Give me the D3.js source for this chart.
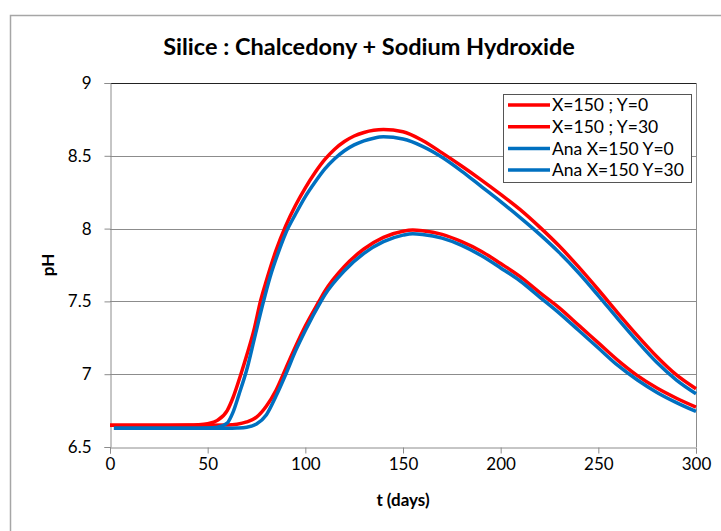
<!DOCTYPE html>
<html>
<head>
<meta charset="utf-8">
<script src="https://cdn.jsdelivr.net/npm/d3@7"></script>
<style>
  body { margin: 0; background: #fff; }
  svg { display: block; font-family: Lato, "Liberation Sans", sans-serif; }
</style>
</head>
<body>
<svg id="chart" width="721" height="531"></svg>
<script>
// values
const tRedY0  = [0, 10, 20, 30, 40, 45, 50, 55, 60, 63, 67, 70, 74, 77, 80, 85, 90, 95, 100, 105, 110, 115, 120, 125, 130, 135, 140, 150, 160, 170, 180, 190, 200, 210, 220, 230, 240, 250, 260, 270, 280, 290, 300];
const pHRedY0 = [6.65, 6.65, 6.65, 6.65, 6.651, 6.653, 6.66, 6.683, 6.75, 6.84, 7.0, 7.13, 7.32, 7.5, 7.64, 7.85, 8.02, 8.16, 8.28, 8.385, 8.475, 8.545, 8.598, 8.636, 8.66, 8.675, 8.68, 8.665, 8.605, 8.52, 8.43, 8.335, 8.235, 8.13, 8.01, 7.88, 7.735, 7.58, 7.42, 7.265, 7.12, 6.995, 6.9];

const tRedY30  = [0, 10, 20, 30, 40, 50, 60, 65, 70, 75, 80, 85, 90, 95, 100, 107, 110, 120, 130, 140, 150, 155, 160, 170, 180, 190, 200, 210, 220, 230, 240, 250, 260, 270, 280, 290, 300];
const pHRedY30 = [6.65, 6.65, 6.65, 6.65, 6.65, 6.65, 6.651, 6.656, 6.672, 6.705, 6.78, 6.89, 7.04, 7.19, 7.33, 7.5, 7.57, 7.74, 7.86, 7.94, 7.982, 7.99, 7.985, 7.96, 7.91, 7.845, 7.76, 7.67, 7.56, 7.455, 7.335, 7.215, 7.095, 6.99, 6.905, 6.835, 6.774];

const tAnaY0  = [2, 10, 20, 30, 40, 50, 55, 60, 63, 66, 70, 74, 78, 82, 86, 90, 95, 100, 105, 110, 115, 120, 125, 130, 135, 140, 150, 160, 170, 180, 190, 200, 210, 220, 230, 240, 250, 260, 270, 280, 290, 300];
const pHAnaY0 = [6.628, 6.628, 6.628, 6.628, 6.628, 6.63, 6.636, 6.665, 6.74, 6.86, 7.03, 7.25, 7.47, 7.67, 7.83, 7.97, 8.1, 8.22, 8.32, 8.41, 8.48, 8.535, 8.575, 8.603, 8.621, 8.63, 8.615, 8.565, 8.49, 8.395, 8.29, 8.185, 8.075, 7.96, 7.835, 7.695, 7.54, 7.38, 7.225, 7.08, 6.96, 6.866];

const tAnaY30  = [2, 10, 20, 30, 40, 50, 60, 65, 70, 75, 80, 85, 90, 95, 100, 108, 110, 120, 130, 140, 150, 155, 160, 170, 180, 190, 200, 210, 220, 230, 240, 250, 260, 270, 280, 290, 300];
const pHAnaY30 = [6.628, 6.628, 6.628, 6.628, 6.628, 6.628, 6.628, 6.63, 6.636, 6.658, 6.72, 6.85, 7.0, 7.16, 7.3, 7.5, 7.545, 7.71, 7.83, 7.91, 7.955, 7.965, 7.96, 7.935, 7.885, 7.815, 7.73, 7.64, 7.53, 7.42, 7.3, 7.18, 7.06, 6.96, 6.875, 6.805, 6.744];

const seriesNames  = ["X=150 ; Y=0", "X=150 ; Y=30", "Ana X=150 Y=0", "Ana X=150 Y=30"];
const seriesColors = ["#ff0000", "#ff0000", "#0070c0", "#0070c0"];
const xTicks = [0, 50, 100, 150, 200, 250, 300];
const yTicks = [6.5, 7, 7.5, 8, 8.5, 9];

const series = [
    { name: seriesNames[0], color: seriesColors[0], values: tRedY0.map((t, i) => ({ t: t, ph: pHRedY0[i] })) },
    { name: seriesNames[1], color: seriesColors[1], values: tRedY30.map((t, i) => ({ t: t, ph: pHRedY30[i] })) },
    { name: seriesNames[2], color: seriesColors[2], values: tAnaY0.map((t, i) => ({ t: t, ph: pHAnaY0[i] })) },
    { name: seriesNames[3], color: seriesColors[3], values: tAnaY30.map((t, i) => ({ t: t, ph: pHAnaY30[i] })) }
];

const plotLeft = 110, plotRight = 696, plotTop = 83, plotBottom = 447;

var svg = d3.select("#chart");

// outer chart frame (runs off the picture on the right and bottom)
svg.append("rect")
    .attr("x", 10.5).attr("y", 15.5)
    .attr("width", 800).attr("height", 600)
    .attr("fill", "none")
    .attr("stroke", "#a6a6a6")
    .attr("stroke-width", 1.5);

var x = d3.scaleLinear().domain([0, 300]).range([plotLeft, plotRight]);
var y = d3.scaleLinear().domain([6.5, 9]).range([plotBottom, plotTop]);

// gridlines
svg.append("g")
    .selectAll("line")
    .data(yTicks.slice(1))
    .enter()
    .append("line")
    .attr("x1", plotLeft).attr("x2", plotRight)
    .attr("y1", d => Math.round(y(d)) + 0.5)
    .attr("y2", d => Math.round(y(d)) + 0.5)
    .attr("stroke", d => d === 9 ? "#222" : "#8c8c8c")
    .attr("stroke-width", 1);

// right edge of plot area
svg.append("line")
    .attr("x1", Math.round(plotRight) + 0.5).attr("x2", Math.round(plotRight) + 0.5)
    .attr("y1", plotTop).attr("y2", plotBottom)
    .attr("stroke", "#8c8c8c");

var xAxis = d3.axisBottom(x).tickValues(xTicks).tickSize(6).tickPadding(4);
var yAxis = d3.axisLeft(y).tickValues(yTicks).tickSize(6).tickPadding(13)
    .tickFormat(d3.format("~g"));

var gx = svg.append("g")
    .attr("transform", "translate(0," + (plotBottom + 0.5) + ")")
    .call(xAxis);
var gy = svg.append("g")
    .attr("transform", "translate(" + (plotLeft + 0.5) + ",0)")
    .call(yAxis);

[gx, gy].forEach(function(g) {
    g.selectAll("path, line").attr("stroke", "#8c8c8c");
    g.selectAll("text")
        .attr("fill", "#000")
        .style("font-family", "Lato, sans-serif")
        .style("font-size", "17px");
});

// lines
var lineMaker = d3.line()
    .x(d => x(d.t))
    .y(d => y(d.ph))
    .curve(d3.curveMonotoneX);

svg.append("g")
    .selectAll("path")
    .data(series)
    .enter()
    .append("path")
    .attr("fill", "none")
    .attr("stroke", d => d.color)
    .attr("stroke-width", 3.5)
    .attr("stroke-linejoin", "round")
    .attr("d", d => lineMaker(d.values));

// titles
svg.append("text")
    .attr("x", 369).attr("y", 55)
    .attr("text-anchor", "middle")
    .style("font-weight", "bold")
    .style("font-size", "23.5px")
    .text("Silice : Chalcedony + Sodium Hydroxide");

svg.append("text")
    .attr("x", (plotLeft + plotRight) / 2).attr("y", 506)
    .attr("text-anchor", "middle")
    .style("font-weight", "bold")
    .style("font-size", "17px")
    .text("t (days)");

svg.append("text")
    .attr("transform", "translate(54," + ((plotTop + plotBottom) / 2) + ") rotate(-90)")
    .attr("text-anchor", "middle")
    .style("font-weight", "bold")
    .style("font-size", "17px")
    .text("pH");

// legend
var legend = svg.append("g");
legend.append("rect")
    .attr("x", 503.5).attr("y", 94.5)
    .attr("width", 188).attr("height", 88)
    .attr("fill", "#fff")
    .attr("stroke", "#555");

var rows = legend.selectAll("g.row")
    .data(series)
    .enter()
    .append("g")
    .attr("class", "row")
    .attr("transform", (d, i) => "translate(0," + (105 + i * 21.7) + ")");

rows.append("line")
    .attr("x1", 508).attr("x2", 550)
    .attr("stroke", d => d.color)
    .attr("stroke-width", 3.5);

rows.append("text")
    .attr("x", 552).attr("y", 0)
    .attr("dy", "0.35em")
    .style("font-size", "17.5px")
    .text(d => d.name);
</script>
</body>
</html>
